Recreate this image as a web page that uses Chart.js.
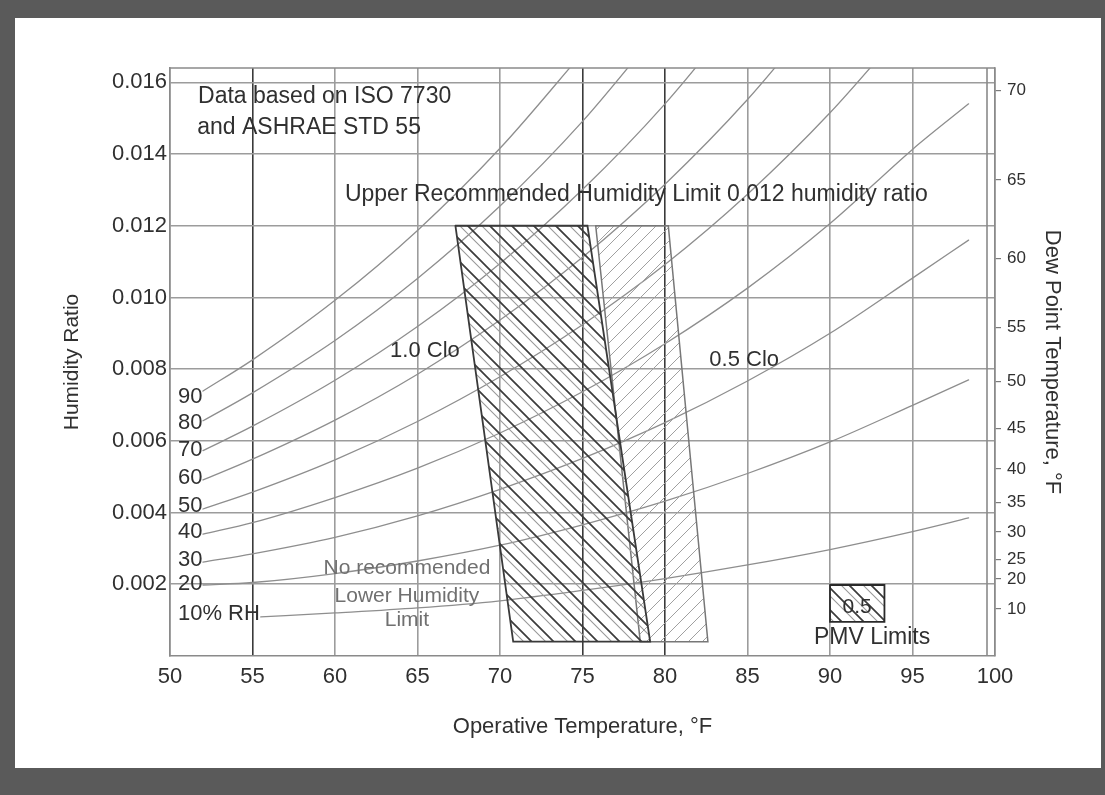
<!DOCTYPE html>
<html><head><meta charset="utf-8">
<script src="https://cdn.jsdelivr.net/npm/chart.js@4.4.1/dist/chart.umd.min.js"></script>
<style>
html,body{margin:0;padding:0;background:#fff;}
#wrap{position:relative;width:1105px;height:795px;overflow:hidden;}
#frame{position:absolute;left:0;top:0;width:1105px;height:795px;box-sizing:border-box;border-style:solid;border-color:#5a5a5a;border-width:18px 4px 27px 15px;background:#fff;}
#c{position:absolute;left:0;top:0;width:1105px;height:795px;}
</style></head><body>
<div id="wrap"><div id="frame"></div><canvas id="c" width="1105" height="795"></canvas></div>
<script>
// ---- data ----
const tempTicks = [50, 55, 60, 65, 70, 75, 80, 85, 90, 95, 100];
const ratioTicks = [0.002, 0.004, 0.006, 0.008, 0.010, 0.012, 0.014, 0.016];
const dewPointLabels = [70, 65, 60, 55, 50, 45, 40, 35, 30, 25, 20, 10];
const dewPointRatios = [0.01578, 0.01328, 0.01108, 0.00916, 0.00766, 0.00634, 0.00522, 0.00428, 0.00346, 0.00270, 0.00215, 0.00131];

const rhTemps = [52, 55, 60, 65, 70, 75, 80, 85, 90, 95, 98.4];
const rh90 = [0.00739, 0.00826, 0.00992, 0.01187, 0.01416, 0.01682];
const rh80 = [0.00656, 0.00734, 0.00880, 0.01053, 0.01255, 0.01491, 0.01767];
const rh70 = [0.00573, 0.00641, 0.00769, 0.00919, 0.01095, 0.01301, 0.01540, 0.01819];
const rh60 = [0.00491, 0.00549, 0.00658, 0.00786, 0.00937, 0.01112, 0.01316, 0.01552, 0.01827];
const rh50 = [0.00410, 0.00457, 0.00547, 0.00654, 0.00779, 0.00924, 0.01092, 0.01288, 0.01515, 0.01777];
const rh40 = [0.00340, 0.00372, 0.00442, 0.00524, 0.00622, 0.00737, 0.00871, 0.01026, 0.01206, 0.01413, 0.01540];
const rh30 = [0.00262, 0.00285, 0.00331, 0.00391, 0.00465, 0.00551, 0.00651, 0.00767, 0.00900, 0.01054, 0.01160];
const rh20 = [0.00198, 0.00205, 0.00230, 0.00265, 0.00309, 0.00366, 0.00432, 0.00509, 0.00597, 0.00699, 0.00770];
const rh10Temps = [55.5, 60, 65, 70, 75, 80, 85, 90, 95, 98.4];
const rh10 = [0.00109, 0.00120, 0.00134, 0.00154, 0.00183, 0.00216, 0.00254, 0.00297, 0.00347, 0.00385];

const clo10Temps = [67.3, 75.3, 79.1, 70.8];
const clo10Ratios = [0.012, 0.012, 0.0004, 0.0004];
const clo05Temps = [75.8, 80.2, 82.6, 78.5];
const clo05Ratios = [0.012, 0.012, 0.0004, 0.0004];
const pmvKeyTemps = [90.0, 93.3, 93.3, 90.0];
const pmvKeyRatios = [0.00198, 0.00198, 0.00095, 0.00095];

// ---- helpers ----
const FONT = '"Liberation Sans", Arial, sans-serif';
const TXT = '#303030';
function pts(xs, ys, close) {
  const out = [];
  ys.forEach((v, i) => { if (v != null) out.push({x: xs[i], y: v}); });
  if (close) out.push({x: xs[0], y: ys[0]});
  return out;
}
function hatch(size, lines) {
  const c = document.createElement('canvas');
  c.width = c.height = size;
  const g = c.getContext('2d');
  lines.forEach(l => {
    g.strokeStyle = l.color; g.lineWidth = l.width;
    g.beginPath();
    for (let k = -1; k <= 1; k++) {
      const o = k * size + (l.offset || 0);
      if (l.dir === 'back') { g.moveTo(-1, -1 + o); g.lineTo(size + 1, size + 1 + o); }
      else { g.moveTo(-1, size + 1 + o); g.lineTo(size + 1, -1 + o); }
    }
    g.stroke();
  });
  return g.createPattern(c, 'repeat');
}
const ctx = document.getElementById('c').getContext('2d');
const patClo10 = hatch(22, [{dir: 'back', color: '#3c3c3c', width: 1.7}, {dir: 'back', color: '#9a9a9a', width: 1.1, offset: 8}]);
const patClo05 = hatch(14, [{dir: 'fwd', color: '#a0a0a0', width: 1}]);

const curve = (xs, ys) => ({
  data: pts(xs, ys), borderColor: '#8e8e8e', borderWidth: 1.3, pointRadius: 0,
  fill: false, cubicInterpolationMode: 'monotone'
});

const notes = [
  {text: 'Data based on ISO 7730', x: 51.7, y: 0.01559, align: 'left', size: 23},
  {text: 'and ASHRAE STD 55', x: 51.65, y: 0.01473, align: 'left', size: 23},
  {text: 'Upper Recommended Humidity Limit 0.012 humidity ratio', x: 60.6, y: 0.01286, align: 'left', size: 23},
  {text: '1.0 Clo', x: 65.45, y: 0.00851, align: 'center', size: 22},
  {text: '0.5 Clo', x: 84.8, y: 0.00826, align: 'center', size: 22},
  {text: 'No recommended', x: 64.36, y: 0.00245, align: 'center', size: 21, color: '#707070'},
  {text: 'Lower Humidity', x: 64.36, y: 0.00167, align: 'center', size: 21, color: '#707070'},
  {text: 'Limit', x: 64.36, y: 0.00100, align: 'center', size: 21, color: '#707070'},
  {text: '90', x: 50.48, y: 0.00722, align: 'left', size: 22},
  {text: '80', x: 50.48, y: 0.00650, align: 'left', size: 22},
  {text: '70', x: 50.48, y: 0.00575, align: 'left', size: 22},
  {text: '60', x: 50.48, y: 0.00496, align: 'left', size: 22},
  {text: '50', x: 50.48, y: 0.00418, align: 'left', size: 22},
  {text: '40', x: 50.48, y: 0.00346, align: 'left', size: 22},
  {text: '30', x: 50.48, y: 0.00268, align: 'left', size: 22},
  {text: '20', x: 50.48, y: 0.00201, align: 'left', size: 22},
  {text: '10% RH', x: 50.48, y: 0.00117, align: 'left', size: 22},
  {text: '0.5', x: 91.64, y: 0.00137, align: 'center', size: 21},
  {text: 'PMV Limits', x: 92.55, y: 0.00050, align: 'center', size: 23}
];

const decor = {
  id: 'decor',
  beforeDatasetsDraw(chart) {
    const {ctx, chartArea: a} = chart;
    ctx.save();
    ctx.strokeStyle = '#8a8a8a'; ctx.lineWidth = 1.6;
    ctx.beginPath();
    ctx.moveTo(a.left, a.top); ctx.lineTo(a.right, a.top);
    ctx.moveTo(a.right - 8, a.top); ctx.lineTo(a.right - 8, a.bottom);
    ctx.stroke();
    ctx.restore();
  },
  afterDatasetsDraw(chart) {
    const {ctx, scales: {x, y}} = chart;
    ctx.save();
    ctx.textBaseline = 'middle';
    notes.forEach(n => {
      ctx.font = n.size + 'px ' + FONT;
      ctx.fillStyle = n.color || TXT;
      ctx.textAlign = n.align;
      ctx.fillText(n.text, x.getPixelForValue(n.x), y.getPixelForValue(n.y));
    });
    ctx.restore();
  }
};

const darkX = [55, 75, 80];

new Chart(ctx, {
  type: 'line',
  data: {
    datasets: [
      {data: pts(pmvKeyTemps, pmvKeyRatios, true), borderColor: '#2a2a2a', borderWidth: 1.8, backgroundColor: patClo10, fill: 'shape', pointRadius: 0, tension: 0},
      {data: pts(clo10Temps, clo10Ratios, true), borderColor: '#3a3a3a', borderWidth: 1.8, backgroundColor: patClo10, fill: 'shape', pointRadius: 0, tension: 0},
      {data: pts(clo05Temps, clo05Ratios, true), borderColor: '#777', borderWidth: 1.5, backgroundColor: patClo05, fill: 'shape', pointRadius: 0, tension: 0},
      curve(rhTemps, rh90), curve(rhTemps, rh80), curve(rhTemps, rh70), curve(rhTemps, rh60),
      curve(rhTemps, rh50), curve(rhTemps, rh40), curve(rhTemps, rh30), curve(rhTemps, rh20),
      curve(rh10Temps, rh10)
    ]
  },
  options: {
    responsive: false, animation: false, devicePixelRatio: 1,
    layout: {padding: {top: 68, left: 60, right: 40, bottom: 55}},
    plugins: {legend: {display: false}, tooltip: {enabled: false}},
    elements: {line: {borderCapStyle: 'round'}},
    scales: {
      x: {
        type: 'linear', min: 50, max: 100,
        afterBuildTicks: s => { s.ticks = tempTicks.map(v => ({value: v})); },
        afterFit: s => { s.height = 84; },
        ticks: {font: {family: FONT, size: 22}, color: TXT, padding: 8, autoSkip: false, maxRotation: 0},
        grid: {color: c => darkX.includes(c.tick && c.tick.value) ? '#3a3a3a' : '#9c9c9c', lineWidth: 1.6, drawTicks: false},
        border: {color: '#8a8a8a', width: 1.6},
        title: {display: true, text: 'Operative Temperature, °F', font: {family: FONT, size: 22}, color: TXT, padding: 0}
      },
      y: {
        type: 'linear', position: 'left', min: 0, max: 0.0164,
        afterBuildTicks: s => { s.ticks = ratioTicks.map(v => ({value: v})); },
        afterFit: s => { s.width = 110; },
        ticks: {font: {family: FONT, size: 22}, color: TXT, padding: 3, autoSkip: false, callback: v => v.toFixed(3)},
        grid: {color: '#9c9c9c', lineWidth: 1.6, drawTicks: false},
        border: {color: '#8a8a8a', width: 1.6},
        title: {display: true, text: 'Humidity Ratio', font: {family: FONT, size: 21}, color: TXT, padding: 0}
      },
      y2: {
        type: 'linear', position: 'right', min: 0, max: 0.0164,
        afterBuildTicks: s => { s.ticks = dewPointRatios.map(v => ({value: v})); },
        afterFit: s => { s.width = 70; },
        ticks: {font: {family: FONT, size: 17}, color: TXT, padding: 6, autoSkip: false,
          callback: v => { const i = dewPointRatios.indexOf(v); return i >= 0 ? dewPointLabels[i] : ''; }},
        grid: {drawOnChartArea: false, drawTicks: true, tickLength: 6, color: '#7a7a7a', lineWidth: 1.2},
        border: {color: '#8a8a8a', width: 1.6},
        title: {display: true, text: 'Dew Point Temperature, °F', font: {family: FONT, size: 22}, color: TXT, padding: 0}
      }
    }
  },
  plugins: [decor]
});
</script>
</body></html>
